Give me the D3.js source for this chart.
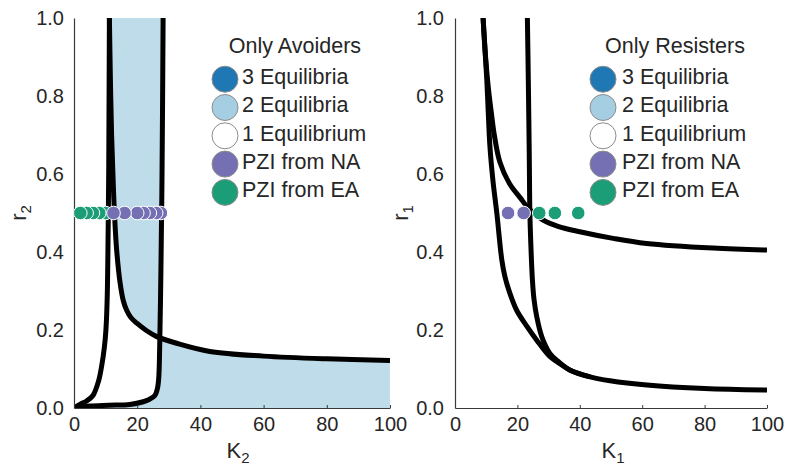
<!DOCTYPE html>
<html><head><meta charset="utf-8">
<script src="https://cdn.jsdelivr.net/npm/d3@7"></script>
<style>
body{margin:0;background:#fff}
text{font-family:"Liberation Sans",Arial,Helvetica,sans-serif;fill:#262626}
</style>
</head><body>
<svg id="c" width="786" height="468"></svg>
<script>
// ---------- data ----------
const xTicks = [0, 20, 40, 60, 80, 100];
const yTicks = [0, 0.2, 0.4, 0.6, 0.8, 1.0];
const legendLabels = ["3 Equilibria", "2 Equilibria", "1 Equilibrium", "PZI from NA", "PZI from EA"];
const legendColors = ["#1f78b4", "#a6cee3", "#ffffff", "#7570b3", "#1b9e77"];
const panelTitles = ["Only Avoiders", "Only Resisters"];

// Left panel (K2, r2) boundary curves
const avoidCurveA = [[0,0],[2,0.01],[4,0.018],[6,0.032],[7.8,0.07],[8.8,0.11],[9.6,0.155],[10.1,0.2],[10.5,0.28],[10.8,0.45],[11.0,0.62],[11.1,0.8],[11.2,1.0]];
const avoidCurveB = [[11.2,1.0],[11.5,0.85],[11.9,0.7],[12.4,0.58],[12.8,0.5],[13.5,0.405],[14.6,0.32],[15.6,0.275],[16.7,0.25],[18,0.232],[19.8,0.218],[23,0.198],[26.2,0.183],[32.5,0.166],[43,0.145],[60,0.133],[80,0.126],[100,0.122]];
const avoidCurveC = [[0,0],[5,0.005],[11,0.007],[17.7,0.009],[21.9,0.016],[23.8,0.022],[25.6,0.032],[26.4,0.05],[26.8,0.075],[27.1,0.15],[27.5,0.35],[27.8,0.55],[28.0,0.75],[28.2,1.0]];

// Right panel (K1, r1) boundary curves
const resistCurveD = [[9.0,1.0],[9.8,0.9],[10.7,0.82],[11.6,0.76],[12.6,0.7],[14.4,0.63],[17.5,0.575],[20.8,0.54],[24,0.508],[28.2,0.482],[33,0.466],[40,0.452],[50.7,0.435],[61.4,0.422],[82.7,0.41],[100,0.405]];
const resistCurveE = [[23.2,1.0],[23.5,0.84],[23.8,0.65],[24.0,0.5],[24.4,0.4],[24.8,0.33],[25.3,0.28],[26.2,0.234],[27.8,0.183],[30.4,0.14],[33,0.12],[36.9,0.097],[43.3,0.08]];
const resistCurveF = [[9.0,1.0],[9.6,0.92],[10.2,0.84],[10.7,0.75],[11.2,0.67],[12.2,0.58],[13.4,0.5],[15,0.38],[16,0.337],[17.6,0.294],[19.8,0.25],[23,0.21],[26.2,0.174],[30.4,0.132],[33,0.117],[36.9,0.097],[43.3,0.08],[49.7,0.07],[61.5,0.059],[80,0.05],[100,0.046]];

// scatter points (r = 0.5)
const pointR = 0.5;
const avoidEA_K = [2, 4, 6, 8, 10];
const avoidNA_K = [12.5, 16, 20, 22, 24, 26, 27.5];
const resistNA_K = [17, 22];
const resistEA_K = [27, 32, 39.5];

// ---------- layout ----------
const svg = d3.select("#c");
const y = d3.scaleLinear([0, 1], [408, 18]);
const xL = d3.scaleLinear([0, 100], [74, 390]);
const xR = d3.scaleLinear([0, 100], [455, 767]);
const FONT = 20;
const LFONT = 21.5;

const defs = svg.append("defs");
function addClip(id, d) { defs.append("clipPath").attr("id", id).append("path").attr("d", d); }

function drawAxes(x, labelPad) {
  const gx = svg.append("g").attr("transform", `translate(0,${y(0)})`)
    .call(d3.axisBottom(x).tickValues(xTicks).tickSizeInner(-3).tickSizeOuter(0).tickPadding(9).tickFormat(d3.format("d")));
  const gy = svg.append("g").attr("transform", `translate(${x(0)},0)`)
    .call(d3.axisLeft(y).tickValues(yTicks).tickSize(0).tickPadding(labelPad).tickFormat(d3.format(".1f")));
  [gx, gy].forEach(g => {
    g.attr("font-size", null).attr("font-family", null);
    g.selectAll("text").style("font-size", FONT + "px").attr("fill", "#262626");
    g.select(".domain").attr("stroke", "#3a3a3a").attr("stroke-width", 1.2);
    g.selectAll(".tick line").attr("stroke", "#3a3a3a").attr("stroke-width", 1);
  });
}

function axisLabel(xp, yp, main, sub, rotate) {
  const t = svg.append("text").attr("text-anchor", "middle").style("font-size", "22px")
    .attr("transform", `translate(${xp},${yp})` + (rotate ? " rotate(-90)" : ""));
  t.append("tspan").text(main);
  t.append("tspan").text(sub).style("font-size", "15px").attr("dy", 5);
}

function legend(cx, tx, titleX, title) {
  svg.append("text").attr("x", titleX).attr("y", 53).attr("text-anchor", "middle")
    .style("font-size", LFONT + "px").text(title);
  legendLabels.forEach((lab, i) => {
    const cy = 79.2 + i * 28.3;
    svg.append("circle").attr("cx", cx).attr("cy", cy).attr("r", 13)
      .attr("fill", legendColors[i]).attr("stroke", "#8c8c8c").attr("stroke-width", 1);
    svg.append("text").attr("x", tx).attr("y", cy + 4.8).style("font-size", LFONT + "px").text(lab);
  });
}

const lineGen = x => d3.line().x(d => x(d[0])).y(d => y(d[1])).curve(d3.curveCatmullRom.alpha(0.5));

function plotClip(id, x) {
  defs.append("clipPath").attr("id", id).append("rect")
    .attr("x", x(0)).attr("y", y(1)).attr("width", x(100) - x(0)).attr("height", y(0) - y(1));
}

function points(x, ks, color, clipId) {
  svg.append("g").attr("clip-path", `url(#${clipId})`).selectAll("circle")
    .data(ks.slice().reverse()).join("circle")
    .attr("cx", d => x(d)).attr("cy", y(pointR)).attr("r", 6.8)
    .attr("fill", color).attr("stroke", "#fff").attr("stroke-width", 1);
}

// ---------- left panel ----------
plotClip("plotL", xL);
const lgL = lineGen(xL);
addClip("aboveB", lgL(avoidCurveB) + `L${xL(100)},${y(1)}Z`);
addClip("belowB", lgL(avoidCurveB) + `L${xL(100)},${y(0)}L${xL(0)},${y(0)}L${xL(0)},${y(1)}Z`);
addClip("leftC", lgL(avoidCurveC) + `L${xL(0)},${y(1)}Z`);
addClip("rightC", lgL(avoidCurveC) + `L${xL(100)},${y(1)}L${xL(100)},${y(0)}Z`);

const fillL = svg.append("g").attr("clip-path", "url(#plotL)");
[["aboveB", "leftC"], ["belowB", "rightC"]].forEach(([a, b]) => {
  fillL.append("g").attr("clip-path", `url(#${a})`)
    .append("g").attr("clip-path", `url(#${b})`)
    .append("rect").attr("x", xL(0)).attr("y", y(1)).attr("width", xL(100) - xL(0)).attr("height", y(0) - y(1))
    .attr("fill", "#a6cee3").attr("fill-opacity", 0.72);
});

const curvesL = svg.append("g").attr("clip-path", "url(#plotL)");
[avoidCurveA, avoidCurveB, avoidCurveC].forEach(c => {
  curvesL.append("path").attr("d", lgL(c)).attr("fill", "none").attr("stroke", "#000").attr("stroke-width", 5);
});
drawAxes(xL, 10);
points(xL, avoidEA_K, "#1b9e77", "plotL");
points(xL, avoidNA_K, "#7570b3", "plotL");
legend(225, 242, 295, panelTitles[0]);
axisLabel(238, 458, "K", "2", false);
axisLabel(26, 213, "r", "2", true);

// ---------- right panel ----------
plotClip("plotR", xR);
const lgR = lineGen(xR);
const curvesR = svg.append("g").attr("clip-path", "url(#plotR)");
[resistCurveD, resistCurveE, resistCurveF].forEach(c => {
  curvesR.append("path").attr("d", lgR(c)).attr("fill", "none").attr("stroke", "#000").attr("stroke-width", 5);
});
drawAxes(xR, 11);
points(xR, resistNA_K, "#7570b3", "plotR");
points(xR, resistEA_K, "#1b9e77", "plotR");
legend(603, 622, 675, panelTitles[1]);
axisLabel(613, 458, "K", "1", false);
axisLabel(408, 213, "r", "1", true);
</script>
</body></html>
